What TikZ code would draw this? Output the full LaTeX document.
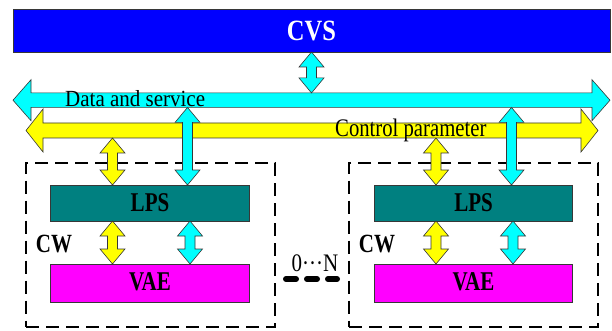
\documentclass[tikz,border=0pt]{standalone}
\usepackage{fontspec}
\setmainfont{Liberation Serif}
\usetikzlibrary{calc}
\definecolor{cvsblue}{RGB}{0,0,255}
\definecolor{bcyan}{RGB}{0,255,255}
\definecolor{byellow}{RGB}{255,255,0}
\definecolor{lpsteal}{RGB}{0,128,128}
\definecolor{vaemag}{RGB}{255,0,255}
\definecolor{edgegray}{RGB}{55,55,55}
% vertical double arrow: #1 top tip, #2 bottom tip, #3 fill
\newcommand\vdarrow[3]{%
  \path[draw=edgegray, fill=#3, line width=0.6pt, line join=miter] let \p1=#1, \p2=#2 in
  (\x1,\y1) -- (\x1+12.5pt,\y1-15pt) -- (\x1+5pt,\y1-15pt) -- (\x1+5pt,\y2+15pt)
  -- (\x1+12.5pt,\y2+15pt) -- (\x1,\y2) -- (\x1-12.5pt,\y2+15pt) -- (\x1-5pt,\y2+15pt)
  -- (\x1-5pt,\y1-15pt) -- (\x1-12.5pt,\y1-15pt) -- cycle;}
% horizontal double arrow: #1 left tip, #2 right tip, #3 half shaft, #4 half head, #5 head length, #6 fill
\newcommand\hdarrow[6]{%
  \path[draw=edgegray, fill=#6, line width=0.6pt, line join=miter] let \p1=#1, \p2=#2 in
  (\x1,\y1) -- (\x1+#5,\y1+#4) -- (\x1+#5,\y1+#3) -- (\x2-#5,\y1+#3) -- (\x2-#5,\y1+#4)
  -- (\x2,\y1) -- (\x2-#5,\y1-#4) -- (\x2-#5,\y1-#3) -- (\x1+#5,\y1-#3) -- (\x1+#5,\y1-#4) -- cycle;}
\begin{document}
\begin{tikzpicture}[x=1pt,y=-1pt,
  busnode/.style={rectangle, inner sep=0pt, outer sep=0pt},
  unitbox/.style={rectangle, draw=edgegray, line width=0.7pt, inner sep=0pt, outer sep=0pt,
    minimum width=198.5pt, minimum height=36pt, text=black,
    font=\fontsize{21}{21}\selectfont\bfseries},
  cwbox/.style={rectangle, draw=black, line width=1.8pt, dash pattern=on 13pt off 7pt,
    minimum width=249pt, minimum height=164pt, inner sep=0pt, outer sep=0pt},
  cwlabel/.style={inner sep=0pt, font=\fontsize{21}{21}\selectfont\bfseries},
  buslabel/.style={inner sep=0pt, anchor=base west}
]
\useasboundingbox (0,0) rectangle (612,331);

% CVS
\node[rectangle, draw=edgegray, line width=0.7pt, fill=cvsblue, inner sep=0pt, outer sep=0pt,
  minimum width=597pt, minimum height=43pt, text=white,
  font=\fontsize{24.5}{24.5}\selectfont\bfseries] (cvs) at (311.5,30.5) {\scalebox{1}[1.2]{CVS}};

% CW dashed boxes
\node[cwbox] (cwb1) at (150.5,244.7) {};
\node[cwbox] (cwb2) at (473.5,244.7) {};

% LPS / VAE
\node[unitbox, fill=lpsteal] (lps1) at (150,203) {\scalebox{1}[1.29]{LPS}};
\node[unitbox, fill=vaemag, minimum height=38pt] (vae1) at (150,283) {\raisebox{3pt}{\scalebox{1}[1.29]{VAE}}};
\node[unitbox, fill=lpsteal] (lps2) at (473.5,203) {\scalebox{1}[1.29]{LPS}};
\node[unitbox, fill=vaemag, minimum height=38pt] (vae2) at (473.5,283) {\raisebox{3pt}{\scalebox{1}[1.29]{VAE}}};

% CW labels
\node[cwlabel] (cw1) at (54,244.5) {\scalebox{1}[1.25]{CW}};
\node[cwlabel] (cw2) at (377,244.5) {\scalebox{1}[1.25]{CW}};

% buses
\node[busnode, minimum width=572pt, minimum height=15pt] (ctrlbus) at (312,130.5) {};
\node[busnode, minimum width=597pt, minimum height=14.5pt] (databus) at (311.5,100.2) {};
\hdarrow{(ctrlbus.west)}{(ctrlbus.east)}{7.5pt}{21.5pt}{17pt}{byellow}
\hdarrow{(databus.west)}{(databus.east)}{7.25pt}{20.5pt}{18pt}{bcyan}

\node[buslabel, font=\fontsize{21}{21}\selectfont] (datalbl) at (65,107) {\scalebox{1}[1.1]{Data and service}};
\node[buslabel, font=\fontsize{20.7}{20.7}\selectfont] (ctrllbl) at (335,137) {\scalebox{1}[1.22]{Control parameter}};

% x positions of connectors
\coordinate (xy1) at (112.5,0);
\coordinate (xc1) at (187.5,0);
\coordinate (xi1) at (190,0);
\coordinate (xy2) at (436,0);
\coordinate (xc2) at (511.5,0);
\coordinate (xi2) at (513,0);

% CVS to data bus
\vdarrow{(cvs.south)}{(cvs.south |- databus.north)}{bcyan}
% buses to LPS
\vdarrow{(ctrlbus.south -| xy1)}{(lps1.north -| xy1)}{byellow}
\vdarrow{(databus.south -| xc1)}{(lps1.north -| xc1)}{bcyan}
\vdarrow{(ctrlbus.south -| xy2)}{(lps2.north -| xy2)}{byellow}
\vdarrow{(databus.south -| xc2)}{(lps2.north -| xc2)}{bcyan}
% LPS to VAE
\vdarrow{(lps1.south -| xy1)}{(vae1.north -| xy1)}{byellow}
\vdarrow{(lps1.south -| xi1)}{(vae1.north -| xi1)}{bcyan}
\vdarrow{(lps2.south -| xy2)}{(vae2.north -| xy2)}{byellow}
\vdarrow{(lps2.south -| xi2)}{(vae2.north -| xi2)}{bcyan}

% 0...N
\node[inner sep=0pt, anchor=base, font=\fontsize{21}{21}\selectfont] (range) at (315,271) {\scalebox{1}[1.2]{0···N}};
\draw[line width=6pt, dash pattern=on 10pt off 11pt, line cap=round] (286,279) -- (337,279);
\end{tikzpicture}
\end{document}
